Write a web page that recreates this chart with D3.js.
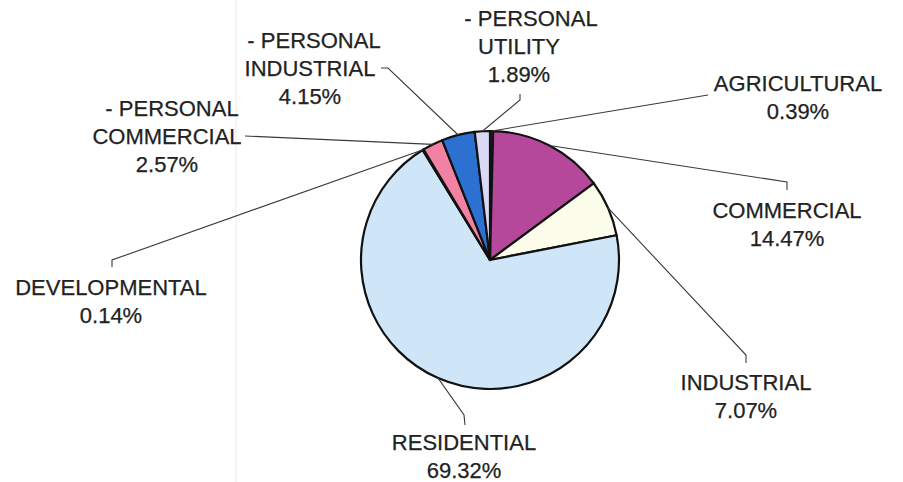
<!DOCTYPE html>
<html>
<head>
<meta charset="utf-8">
<script src="https://cdn.jsdelivr.net/npm/d3@7"></script>
<style>
  body { margin: 0; background: #fff; }
  svg { display: block; }
  text { font-family: "Liberation Sans", Arial, sans-serif; font-size: 22px; fill: #222; stroke: #222; stroke-width: 0.25px; }
</style>
</head>
<body>
<div id="pie"></div>
<script>
// land use shares, clockwise from 12 o'clock
var categories = ["AGRICULTURAL", "COMMERCIAL", "INDUSTRIAL", "RESIDENTIAL",
                  "DEVELOPMENTAL", "- PERSONAL COMMERCIAL", "- PERSONAL INDUSTRIAL", "- PERSONAL UTILITY"];
var shares = [0.39, 14.47, 7.07, 69.32, 0.14, 2.57, 4.15, 1.89];
var labelLines = [["AGRICULTURAL"], ["COMMERCIAL"], ["INDUSTRIAL"], ["RESIDENTIAL"],
                  ["DEVELOPMENTAL"], ["- PERSONAL", "COMMERCIAL"], ["- PERSONAL", "INDUSTRIAL"], ["- PERSONAL", "UTILITY"]];

var colors = ["#3a1f3a", "#b5489b", "#fdfdec", "#cfe6f8", "#1e1e3a", "#f282a3", "#2c70d2", "#d9d9f6"];

// where each label sits: x centre, first baseline, dx of first line, leader bends
var layout = [
  {x: 798, y: 91,  dx: 0, bends: [[708, 95]]},
  {x: 787, y: 218, dx: 0, bends: [[787, 182], [787, 190]]},
  {x: 746, y: 390, dx: 0, bends: [[746, 355], [746, 363]]},
  {x: 464, y: 450, dx: 0, bends: [[464, 415], [465, 425]]},
  {x: 111, y: 295, dx: 0, bends: [[112, 260], [112, 267]]},
  {x: 167, y: 116, dx: 5, bends: [[245, 136]]},
  {x: 310, y: 48,  dx: 4, bends: [[388, 68], [381, 68]]},
  {x: 519, y: 26,  dx: 12, bends: [[520, 100], [520, 94]]}
];

var width = 903, height = 482,
    cx = 490, cy = 260, r = 129,
    lineH = 28;

var svg = d3.select("#pie").append("svg")
    .attr("width", width)
    .attr("height", height);

// faint scan edge
svg.append("line")
    .attr("x1", 236).attr("x2", 236).attr("y1", 0).attr("y2", height)
    .attr("stroke", "#f2f2f2").attr("stroke-width", 1.5);

var data = categories.map(function(c, i) {
  return {name: c, value: shares[i], lines: labelLines[i], color: colors[i], pos: layout[i]};
});

var pie = d3.pie().sort(null).value(function(d) { return d.value; });
var arcs = pie(data);

var arc = d3.arc().innerRadius(0).outerRadius(r);
var edge = d3.arc().innerRadius(r).outerRadius(r);

var g = svg.append("g").attr("transform", "translate(" + cx + "," + cy + ")");

g.selectAll("path.slice")
    .data(arcs)
    .enter().append("path")
    .attr("class", "slice")
    .attr("d", arc)
    .attr("fill", function(d) { return d.data.color; })
    .attr("stroke", "#111")
    .attr("stroke-width", 2.2)
    .attr("stroke-linejoin", "round");

// leader lines
var line = d3.line();
svg.selectAll("path.leader")
    .data(arcs)
    .enter().append("path")
    .attr("class", "leader")
    .attr("d", function(d) {
      var c = edge.centroid(d);
      var pts = [[cx + c[0], cy + c[1]]].concat(d.data.pos.bends);
      return line(pts);
    })
    .attr("fill", "none")
    .attr("stroke", "#3a3a3a")
    .attr("stroke-width", 1.1);

// labels
var lab = svg.selectAll("text.lab")
    .data(arcs)
    .enter().append("text")
    .attr("class", "lab")
    .attr("text-anchor", "middle");

lab.each(function(d) {
  var t = d3.select(this), p = d.data.pos;
  var rows = d.data.lines.concat([d.data.value.toFixed(2) + "%"]);
  rows.forEach(function(s, k) {
    t.append("tspan")
      .attr("x", p.x + (k === 0 && rows.length > 2 ? p.dx : 0))
      .attr("y", p.y + k * lineH)
      .text(s);
  });
});
</script>
</body>
</html>
